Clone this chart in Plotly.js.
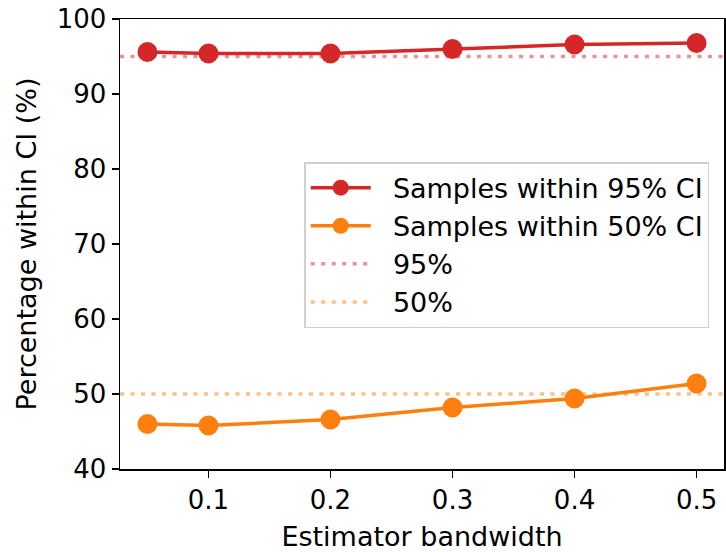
<!DOCTYPE html>
<html><head><meta charset="utf-8">
<script src="https://cdn.plot.ly/plotly-3.0.1.min.js"></script>
<style>html,body{margin:0;padding:0;background:#fff}#chart{width:726px;height:552px}</style>
</head><body><div id="chart"></div>
<script>
const bandwidth = [0.05, 0.1, 0.2, 0.3, 0.4, 0.5];
const within95 = [95.6, 95.4, 95.4, 96.0, 96.6, 96.8];
const within50 = [46.0, 45.8, 46.6, 48.2, 49.4, 51.4];
const xRange = [0.0275, 0.5225];
const yRange = [40, 100];
const xTicks = [0.1, 0.2, 0.3, 0.4, 0.5];
const yTicks = [40, 50, 60, 70, 80, 90, 100];
const target95 = 95, target50 = 50;
const seriesNames = ['Samples within 95% CI', 'Samples within 50% CI', '95%', '50%'];

const pad = '\u00a0\u00a0';
const font = {family: 'DejaVu Sans', size: 27, color: '#000'};
const tickFont = {family: 'DejaVu Sans', size: 26, color: '#000'};
const traces = [
  {x: bandwidth, y: within95, mode: 'lines+markers', name: pad + seriesNames[0],
   line: {color: '#d62728', width: 3.5}, marker: {color: '#d62728', size: 20}},
  {x: bandwidth, y: within50, mode: 'lines+markers', name: pad + seriesNames[1],
   line: {color: '#ff7f0e', width: 3.5}, marker: {color: '#ff7f0e', size: 20}},
  {x: xRange, y: [target95, target95], mode: 'lines', name: pad + seriesNames[2],
   line: {color: 'rgba(214,39,40,0.5)', width: 3.5, dash: '4px,6.5px'}},
  {x: xRange, y: [target50, target50], mode: 'lines', name: pad + seriesNames[3],
   line: {color: 'rgba(255,127,14,0.5)', width: 3.5, dash: '4px,6.5px'}}
];
const axisCommon = {showline: true, linecolor: '#000', linewidth: 1.5, mirror: true,
  ticks: 'outside', ticklen: 7, tickwidth: 1.5, tickcolor: '#000', showgrid: false,
  zeroline: false, tickfont: tickFont};
const layout = {
  width: 726, height: 552,
  margin: {l: 120, r: 2, t: 19, b: 83},
  paper_bgcolor: '#fff', plot_bgcolor: '#fff',
  font: font,
  showlegend: true,
  legend: {x: 0.305, y: 0.682, xanchor: 'left', yanchor: 'top',
    bordercolor: '#d0d0d0', borderwidth: 1.5, bgcolor: 'rgba(255,255,255,0.8)',
    font: font, itemwidth: 60},
  xaxis: Object.assign({}, axisCommon, {range: xRange, tickvals: xTicks, ticktext: xTicks.map(v => v.toFixed(1)),
    title: {text: 'Estimator bandwidth', font: font, standoff: 14}}),
  yaxis: Object.assign({}, axisCommon, {range: yRange, tickvals: yTicks,
    title: {text: 'Percentage within CI (%)', font: font, standoff: 12}})
};
Plotly.newPlot('chart', traces, layout, {displayModeBar: false, staticPlot: true});
</script></body></html>
